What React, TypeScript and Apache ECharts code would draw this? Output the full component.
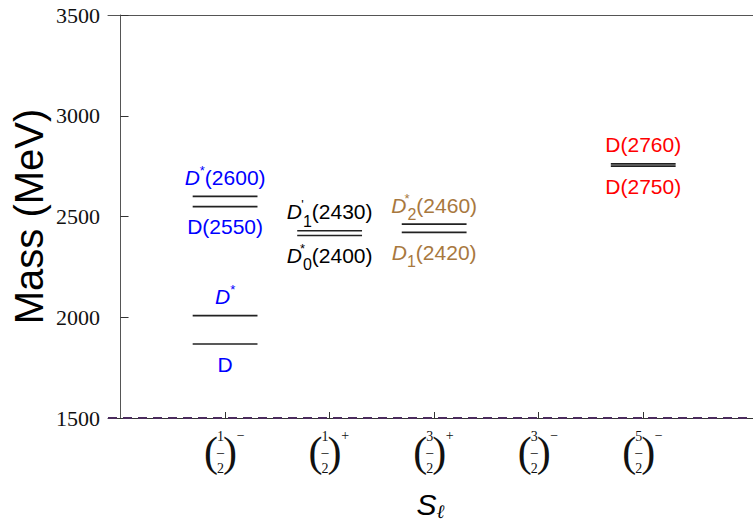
import React, { useEffect, useRef } from "react";
import * as echarts from "echarts";

// ---- data ----
const xTicks = [1, 2, 3, 4, 5];
const tickNumerators = ["1", "1", "3", "3", "5"];
const tickSigns = ["\u2212", "+", "+", "\u2212", "\u2212"];

const levelX = [1, 1, 1, 1, 2, 2, 3, 3, 5, 5];
const levelMass = [1867, 2008, 2549, 2600, 2406, 2429, 2421, 2462, 2750, 2761];
const levelLabels = [
  "{n|D}",
  "{i|D}{sup|*}",
  "{n|D(2550)}",
  "{i|D}{sup|*}{n|(2600)}",
  "{i|D}{supw|*}{sub|0}{n|(2400)}",
  "{i|D}{supw|'}{sub|1}{n|(2430)}",
  "{i|D}{sub|1}{n|(2420)}",
  "{i|D}{supw|*}{sub|2}{n|(2460)}",
  "{n|D(2750)}",
  "{n|D(2760)}",
];
const labelSides = ["bottom", "top", "bottom", "top", "bottom", "top", "bottom", "top", "bottom", "top"];
const BLUE = "#0000ff";
const BLACK = "#000000";
const BROWN = "#a8783e";
const RED = "#ff0000";
const labelColors = [BLUE, BLUE, BLUE, BLUE, BLACK, BLACK, BROWN, BROWN, RED, RED];

const yMin = 1500;
const yMax = 3500;
const yStep = 500;

export default function App() {
  const ref = useRef<HTMLDivElement>(null);

  useEffect(() => {
    if (!ref.current) return;
    const chart = echarts.init(ref.current, undefined, { renderer: "svg" });

    const levelData = levelX.map((x, i) => [x, levelMass[i]]);
    const labelData = levelX.map((x, i) => ({
      value: [x, levelMass[i]],
      label: {
        show: true,
        position: labelSides[i],
        distance: labelSides[i] === "top" ? 5 : 6,
        formatter: levelLabels[i],
        color: labelColors[i],
      },
    }));

    const labelRich = {
      n: { fontFamily: "Liberation Sans", fontSize: 21, lineHeight: 27 },
      i: { fontFamily: "Liberation Sans", fontSize: 21, lineHeight: 27, fontStyle: "italic" },
      sup: { fontFamily: "Liberation Sans", fontSize: 13, lineHeight: 27, verticalAlign: "top" },
      supw: { fontFamily: "Liberation Sans", fontSize: 13, lineHeight: 27, verticalAlign: "top", width: 1 },
      sub: { fontFamily: "Liberation Sans", fontSize: 16, lineHeight: 27, verticalAlign: "bottom", padding: [0, 0, -4, 0] },
    };

    const PF = 42;
    const tickRich = {
      hs: { fontFamily: "Liberation Serif", fontSize: 14, color: "rgba(0,0,0,0)", lineHeight: 16, width: 9 },
      s: { fontFamily: "Liberation Serif", fontSize: 14, color: "#111", lineHeight: 16, verticalAlign: "top", width: 9 },
      hp: { fontFamily: "Liberation Serif", fontSize: PF, color: "rgba(0,0,0,0)", lineHeight: 16, width: 12 },
      P: { fontFamily: "Liberation Serif", fontSize: PF, color: "#111", lineHeight: 4, width: 12 },
      n: { fontFamily: "Liberation Serif", fontSize: 14, color: "#111", lineHeight: 16, width: 7 },
      b: { fontFamily: "Liberation Serif", fontSize: 14, color: "#111", lineHeight: 4, width: 7 },
    };

    chart.setOption({
      animation: false,
      backgroundColor: "#ffffff",
      grid: { left: 108, right: 0, top: 15, bottom: 112, containLabel: false, outerBoundsMode: "none" },
      xAxis: [
        {
          type: "value",
          position: "bottom",
          min: -0.12,
          max: 6.05,
          splitLine: { show: false },
          axisLine: { show: true, lineStyle: { color: "#333", width: 1 } },
          axisTick: { show: true, inside: true, length: 6, customValues: xTicks, lineStyle: { color: "#333" } },
          axisLabel: {
            show: true,
            customValues: xTicks,
            margin: 10,
            align: "center",
            formatter: (v: number) => {
              const k = Math.round(v) - 1;
              const num = tickNumerators[k];
              const sg = tickSigns[k];
              return (
                `{hp|(}{n|${num}}{hp|)}{s|${sg}}\n` +
                `{P|(}{b|\u2013}{P|)}{hs|${sg}}\n` +
                `{hp|(}{n|2}{hp|)}{hs|${sg}}`
              );
            },
            rich: tickRich,
          },
          name: "{s|S}{l|\u2113}",
          nameLocation: "middle",
          nameGap: 70,
          nameMoveOverlap: false,
          nameTextStyle: {
            rich: {
              s: { fontFamily: "Liberation Sans", fontSize: 30, fontStyle: "italic", color: "#000", lineHeight: 32 },
              l: { fontFamily: "DejaVu Serif", fontSize: 19, fontStyle: "italic", color: "#000", lineHeight: 32, verticalAlign: "bottom" },
            },
          },
        },
        {
          type: "value",
          position: "top",
          min: -0.12,
          max: 6.05,
          splitLine: { show: false },
          axisLine: { show: true, lineStyle: { color: "#555", width: 1 } },
          axisTick: { show: false },
          axisLabel: { show: false },
        },
      ],
      yAxis: {
        type: "value",
        min: yMin,
        max: yMax,
        interval: yStep,
        splitLine: { show: false },
        axisLine: { show: true, lineStyle: { color: "#555", width: 1 } },
        axisTick: { show: true, inside: true, length: 8, lineStyle: { color: "#333" } },
        axisLabel: {
          fontFamily: "Liberation Serif",
          fontSize: 22,
          color: "#111",
          margin: 8,
          formatter: (v: number) => String(v),
        },
        name: "Mass (MeV)",
        nameLocation: "middle",
        nameRotate: 90,
        nameGap: 59,
        nameMoveOverlap: false,
        nameTextStyle: { fontFamily: "Liberation Sans", fontSize: 40, color: "#000" },
      },
      series: [
        {
          type: "custom",
          xAxisIndex: 0,
          data: levelData,
          encode: { x: 0, y: 1 },
          renderItem: (params: any, api: any) => {
            const x = api.value(0);
            const m = api.value(1);
            const a = api.coord([x - 0.31, m]);
            const b = api.coord([x + 0.31, m]);
            return {
              type: "line",
              shape: { x1: a[0], y1: a[1], x2: b[0], y2: b[1] },
              style: { stroke: "#222", lineWidth: 1.6 },
            };
          },
          markLine: {
            silent: true,
            symbol: "none",
            label: { show: false },
            lineStyle: { type: [9, 6], color: "#4b2c5e", width: 2 },
            data: [{ yAxis: yMin }],
          },
        },
        {
          type: "scatter",
          xAxisIndex: 0,
          symbolSize: 1,
          itemStyle: { color: "rgba(0,0,0,0)", opacity: 1 },
          data: labelData,
          label: { show: true, rich: labelRich, opacity: 1 },
        },
      ],
    });

    return () => chart.dispose();
  }, []);

  return (
    <div
      ref={ref}
      style={{ width: 753, height: 530, position: "absolute", left: 0, top: 0, background: "#fff" }}
    />
  );
}
